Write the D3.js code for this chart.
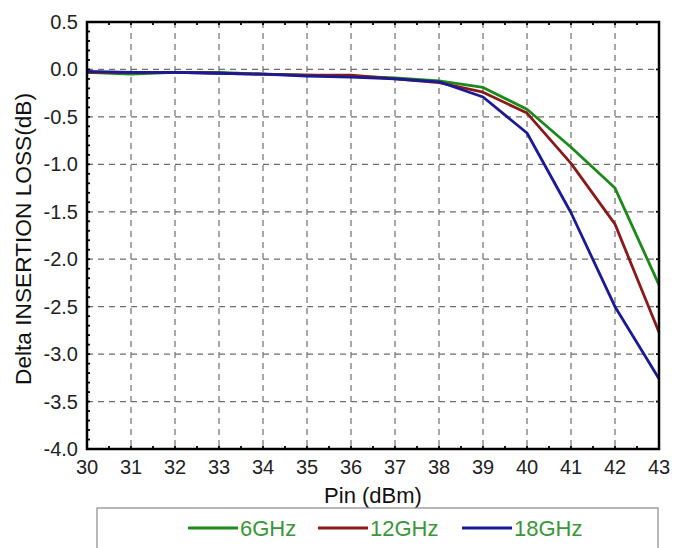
<!DOCTYPE html>
<html>
<head>
<meta charset="utf-8">
<script src="https://cdn.jsdelivr.net/npm/d3@7"></script>
<style>
  body { margin: 0; background: #fff; }
  text { font-family: "Liberation Sans", Arial, sans-serif; }
</style>
</head>
<body>
<div id="chart"></div>
<script>
// data
const pin = [30, 31, 32, 33, 34, 35, 36, 37, 38, 39, 40, 41, 42, 43];
const loss6 = [-0.03, -0.05, -0.03, -0.03, -0.05, -0.06, -0.07, -0.09, -0.12, -0.19, -0.42, -0.82, -1.25, -2.27];
const loss12 = [-0.03, -0.03, -0.03, -0.04, -0.05, -0.06, -0.06, -0.1, -0.14, -0.24, -0.46, -0.99, -1.63, -2.77];
const loss18 = [-0.02, -0.03, -0.03, -0.04, -0.05, -0.07, -0.08, -0.1, -0.13, -0.29, -0.67, -1.51, -2.5, -3.26];
const seriesNames = ["6GHz", "12GHz", "18GHz"];
const seriesColors = ["#1b8a1b", "#8a1a1a", "#1a1a96"];
const xTicks = d3.range(30, 44, 1);
const yTicks = [0.5, 0.0, -0.5, -1.0, -1.5, -2.0, -2.5, -3.0, -3.5, -4.0];

const margin = { top: 22, right: 19, bottom: 99, left: 87 },
  W = 678, H = 548,
  width = W - margin.left - margin.right,
  height = H - margin.top - margin.bottom;

const svg = d3.select("#chart").append("svg")
  .attr("width", W).attr("height", H);
const g = svg.append("g")
  .attr("transform", `translate(${margin.left},${margin.top})`);

const x = d3.scaleLinear().domain([30, 43]).range([0, width]);
const y = d3.scaleLinear().domain([-4, 0.5]).range([height, 0]);

// grid
g.append("g").selectAll("line").data(xTicks.slice(1, -1)).join("line")
  .attr("x1", d => x(d)).attr("x2", d => x(d))
  .attr("y1", 0).attr("y2", height)
  .attr("stroke", "#6e6e6e").attr("stroke-width", 1.2).attr("stroke-dasharray", "6,5");
g.append("g").selectAll("line").data(yTicks.slice(1, -1)).join("line")
  .attr("x1", 0).attr("x2", width)
  .attr("y1", d => y(d)).attr("y2", d => y(d))
  .attr("stroke", "#6e6e6e").attr("stroke-width", 1.2).attr("stroke-dasharray", "6,5");

// minor ticks pointing inward
const xMinor = d3.range(30, 43.01, 0.5);
const yMinor = d3.range(-4, 0.501, 0.1);
const tk = g.append("g").attr("stroke", "#000").attr("stroke-width", 1.8);
tk.selectAll(".xb").data(xMinor).join("line")
  .attr("x1", d => x(d)).attr("x2", d => x(d)).attr("y1", height).attr("y2", height - 3);
tk.selectAll(".xt").data(xMinor).join("line")
  .attr("x1", d => x(d)).attr("x2", d => x(d)).attr("y1", 0).attr("y2", 3);
tk.selectAll(".yl").data(yMinor).join("line")
  .attr("x1", 0).attr("x2", 3).attr("y1", d => y(d)).attr("y2", d => y(d));
tk.selectAll(".yr").data(yTicks).join("line")
  .attr("x1", width).attr("x2", width - 3).attr("y1", d => y(d)).attr("y2", d => y(d));

// lines
const line = d3.line().x((d, i) => x(pin[i])).y(d => y(d));
[loss6, loss12, loss18].forEach((s, k) => {
  g.append("path").datum(s)
    .attr("fill", "none")
    .attr("stroke", seriesColors[k])
    .attr("stroke-width", 2.8)
    .attr("stroke-linejoin", "round")
    .attr("d", line);
});

// frame
g.append("rect").attr("width", width).attr("height", height)
  .attr("fill", "none").attr("stroke", "#000").attr("stroke-width", 2.5);

// tick labels
g.append("g").selectAll("text").data(xTicks).join("text")
  .attr("x", d => x(d)).attr("y", height + 25)
  .attr("text-anchor", "middle").attr("font-size", 20).attr("fill", "#222")
  .text(d => d);
g.append("g").selectAll("text").data(yTicks).join("text")
  .attr("x", -9).attr("y", d => y(d) + 7)
  .attr("text-anchor", "end").attr("font-size", 20).attr("fill", "#222")
  .text(d => d.toFixed(1));

// axis titles
g.append("text")
  .attr("x", width / 2).attr("y", height + 54)
  .attr("text-anchor", "middle").attr("font-size", 22).attr("fill", "#111")
  .text("Pin (dBm)");
g.append("text")
  .attr("transform", `translate(${-56},${(93 + 385) / 2 - margin.top}) rotate(-90)`)
  .attr("text-anchor", "middle").attr("font-size", 22).attr("fill", "#111")
  .attr("textLength", 292).attr("lengthAdjust", "spacingAndGlyphs")
  .text("Delta INSERTION LOSS(dB)");

// legend
const lg = svg.append("g");
lg.append("rect").attr("x", 97).attr("y", 508).attr("width", 561).attr("height", 60)
  .attr("fill", "#fff").attr("stroke", "#8a8a8a").attr("stroke-width", 1.2);
const legX = [188, 318, 462];
seriesNames.forEach((n, k) => {
  lg.append("line").attr("x1", legX[k]).attr("x2", legX[k] + 50)
    .attr("y1", 528).attr("y2", 528)
    .attr("stroke", seriesColors[k]).attr("stroke-width", 2.8);
  lg.append("text").attr("x", legX[k] + 52).attr("y", 536)
    .attr("font-size", 22).attr("fill", "#3a963a").text(n);
});
</script>
</body>
</html>
